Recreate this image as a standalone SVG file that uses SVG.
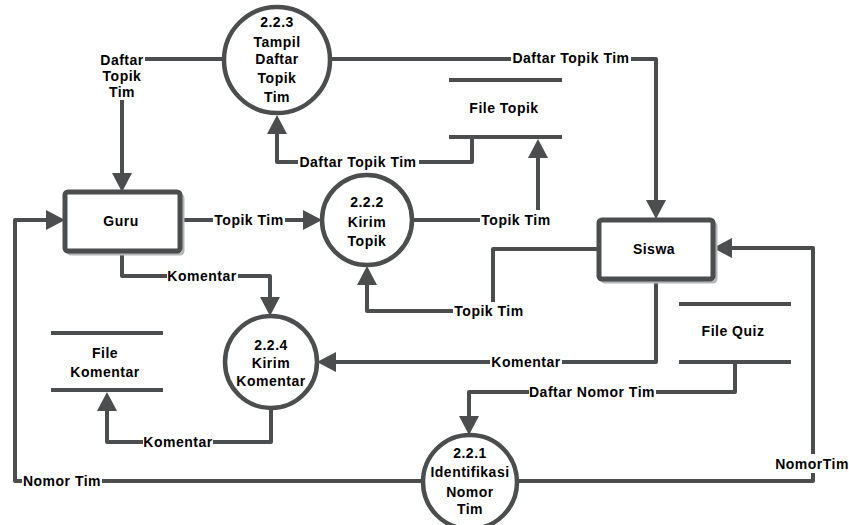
<svg xmlns="http://www.w3.org/2000/svg" width="849" height="525" viewBox="0 0 849 525">
<style>
  .ln{fill:none;stroke:#4b4d4f;stroke-width:4;stroke-linejoin:round}
  .store{stroke:#4b4d4f;stroke-width:4}
  .proc{fill:#fff;stroke:#4b4d4f;stroke-width:4.5}
  .ent{fill:#fff;stroke:#4b4d4f;stroke-width:5}
  .shadow{fill:none;stroke:#b4b6b8;stroke-width:3}
  .bg{fill:#fff}
  text{font-family:"Liberation Sans",Arial,sans-serif;font-weight:bold;font-size:14px;letter-spacing:0.5px;fill:#000;text-anchor:middle}
</style>
<defs>
  <marker id="arr" markerUnits="userSpaceOnUse" markerWidth="20" markerHeight="20" refX="0" refY="10" orient="auto">
    <path d="M0,0 L19,10 L0,20 Z" fill="#4b4d4f"/>
  </marker>
</defs>
<rect width="849" height="525" fill="#fff"/>

<g id="connectors">
  <path class="ln" d="M224,59 H122 V173" marker-end="url(#arr)"/>
  <path class="ln" d="M330,59 H656 V200" marker-end="url(#arr)"/>
  <path class="ln" d="M472,137 V162 H277 V134" marker-end="url(#arr)"/>
  <path class="ln" d="M180,220 H303" marker-end="url(#arr)"/>
  <path class="ln" d="M412,220 H538 V158" marker-end="url(#arr)"/>
  <path class="ln" d="M598,249 H493 V311 H367 V285" marker-end="url(#arr)"/>
  <path class="ln" d="M656,280 V362 H336" marker-end="url(#arr)"/>
  <path class="ln" d="M122,252 V276 H270 V297" marker-end="url(#arr)"/>
  <path class="ln" d="M271,408 V442 H107 V411" marker-end="url(#arr)"/>
  <path class="ln" d="M423,481 H15 V220 H46" marker-end="url(#arr)"/>
  <path class="ln" d="M517,481 H813 V248 H732" marker-end="url(#arr)"/>
  <path class="ln" d="M735,362 V392 H469 V416" marker-end="url(#arr)"/>

  <g id="labels">
    <rect class="bg" x="97" y="47" width="48" height="53"/>
    <text x="122" y="65">Daftar</text>
    <text x="122" y="81">Topik</text>
    <text x="122" y="97">Tim</text>
    <rect class="bg" x="511" y="49" width="120" height="18"/>
    <text x="571" y="63">Daftar Topik Tim</text>
    <rect class="bg" x="298" y="153" width="121" height="18"/>
    <text x="358" y="167">Daftar Topik Tim</text>
    <rect class="bg" x="213" y="211" width="72" height="18"/>
    <text x="249" y="225">Topik Tim</text>
    <rect class="bg" x="480" y="210" width="72" height="20"/>
    <text x="516" y="225">Topik Tim</text>
    <rect class="bg" x="453" y="302" width="72" height="18"/>
    <text x="489" y="316">Topik Tim</text>
    <rect class="bg" x="490" y="353" width="72" height="18"/>
    <text x="526" y="367">Komentar</text>
    <rect class="bg" x="167" y="267" width="71" height="18"/>
    <text x="202" y="281">Komentar</text>
    <rect class="bg" x="143" y="433" width="70" height="18"/>
    <text x="178" y="447">Komentar</text>
    <rect class="bg" x="22" y="472" width="80" height="18"/>
    <text x="62" y="486">Nomor Tim</text>
    <rect class="bg" x="775" y="454" width="74" height="19"/>
    <text x="812" y="469">NomorTim</text>
    <rect class="bg" x="529" y="383" width="127" height="18"/>
    <text x="592" y="397">Daftar Nomor Tim</text>
  </g>
</g>

<g id="guru">
  <rect class="shadow" x="68" y="195" width="115" height="59" rx="3"/>
  <rect class="ent" x="65" y="192" width="115" height="59" rx="3"/>
  <text x="121" y="226">Guru</text>
</g>
<g id="siswa">
  <rect class="shadow" x="602" y="223" width="114" height="59" rx="3"/>
  <rect class="ent" x="599" y="220" width="114" height="59" rx="3"/>
  <text x="654" y="254">Siswa</text>
</g>

<g id="p223">
  <circle class="proc" cx="277" cy="60" r="53"/>
  <text x="277" y="27">2.2.3</text>
  <text x="277" y="47">Tampil</text>
  <text x="277" y="64">Daftar</text>
  <text x="277" y="83">Topik</text>
  <text x="277" y="102">Tim</text>
</g>
<g id="p222">
  <circle class="proc" cx="367" cy="220" r="45"/>
  <text x="367" y="207">2.2.2</text>
  <text x="367" y="227">Kirim</text>
  <text x="367" y="246">Topik</text>
</g>
<g id="p224">
  <circle class="proc" cx="271" cy="362" r="46"/>
  <text x="271" y="350">2.2.4</text>
  <text x="271" y="368">Kirim</text>
  <text x="271" y="386">Komentar</text>
</g>
<g id="p221">
  <circle class="proc" cx="470" cy="482" r="47"/>
  <text x="470" y="458">2.2.1</text>
  <text x="470" y="477" letter-spacing="1">Identifikasi</text>
  <text x="470" y="497">Nomor</text>
  <text x="470" y="514">Tim</text>
</g>

<g id="file-topik">
  <line class="store" x1="449" y1="80" x2="562" y2="80"/>
  <line class="store" x1="449" y1="137" x2="562" y2="137"/>
  <text x="504" y="113">File Topik</text>
</g>
<g id="file-quiz">
  <line class="store" x1="679" y1="304" x2="791" y2="304"/>
  <line class="store" x1="679" y1="362" x2="791" y2="362"/>
  <text x="733" y="336">File Quiz</text>
</g>
<g id="file-komentar">
  <line class="store" x1="51" y1="333" x2="163" y2="333"/>
  <line class="store" x1="51" y1="390" x2="163" y2="390"/>
  <text x="105" y="358">File</text>
  <text x="105" y="377">Komentar</text>
</g>
</svg>
